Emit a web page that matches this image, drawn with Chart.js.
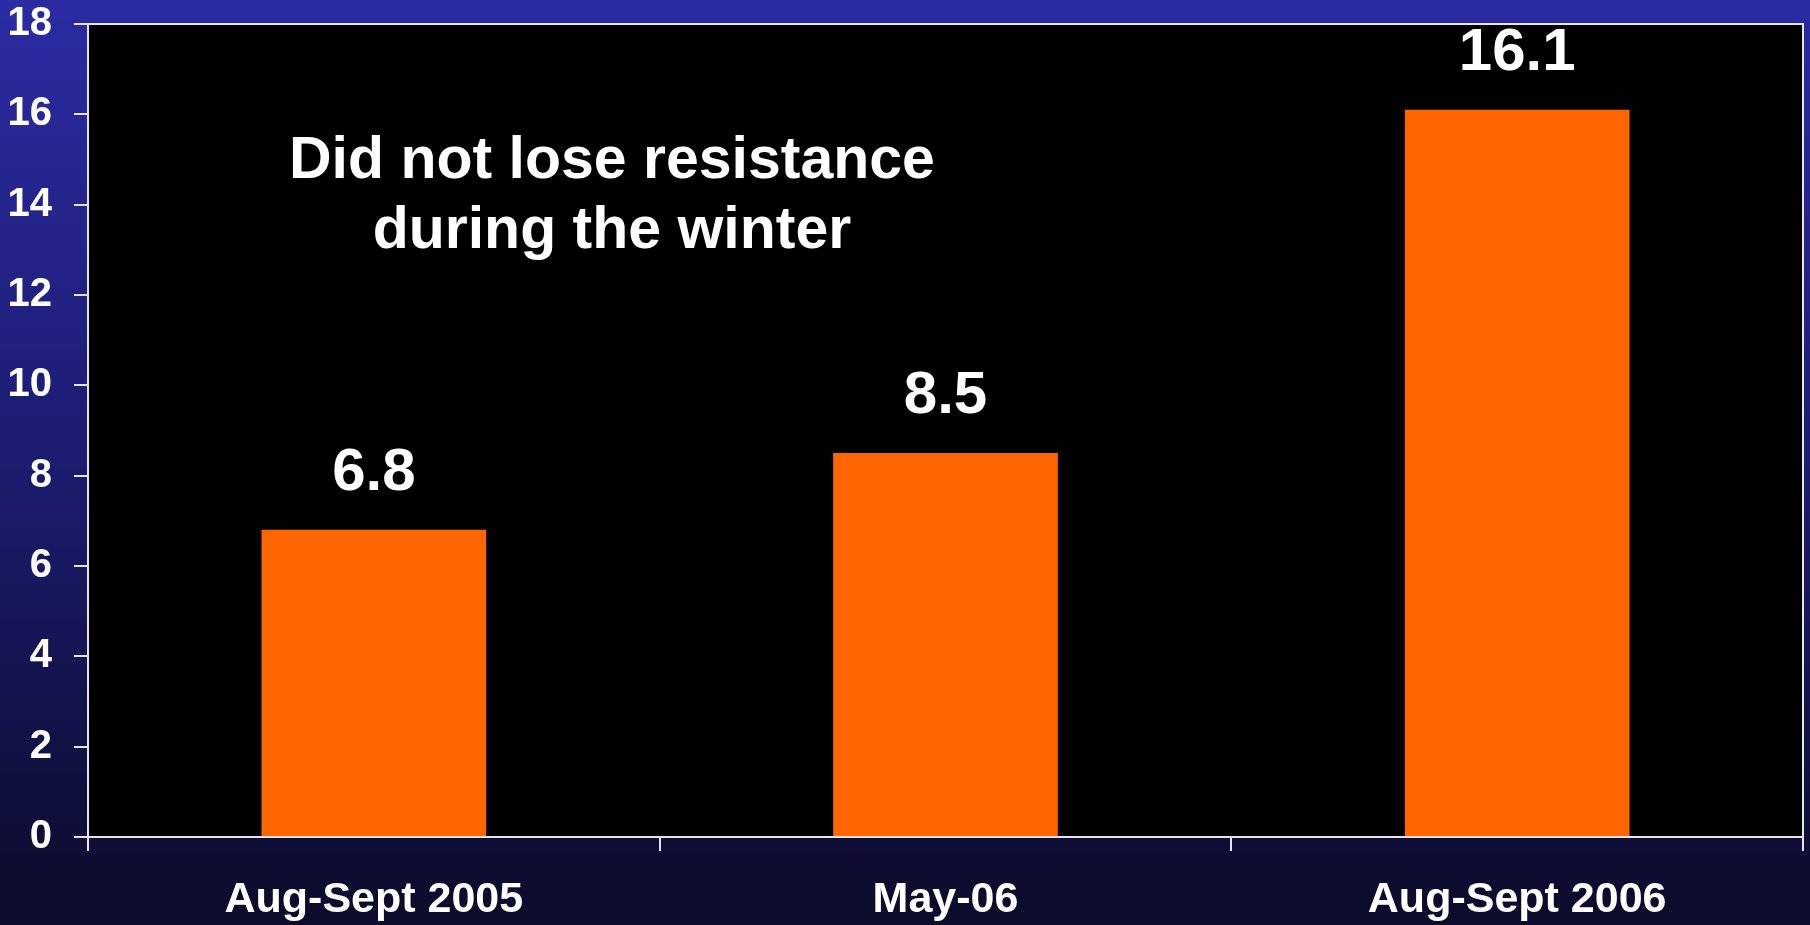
<!DOCTYPE html>
<html><head><meta charset="utf-8">
<script src="https://cdn.jsdelivr.net/npm/chart.js@4.4.1/dist/chart.umd.min.js"></script>
<style>html,body{margin:0;padding:0;background:#000;overflow:hidden}#wrap{width:1810px;height:925px}</style>
</head><body><div id="wrap"><canvas id="c" width="1810" height="925"></canvas></div>
<script>
const categories = ["Aug-Sept 2005", "May-06", "Aug-Sept 2006"];
const values = [6.8, 8.5, 16.1];
const yMin = 0, yMax = 18, yStep = 2;
const annotationLines = ["Did not lose resistance", "during the winter"];

const FONT = "'Liberation Sans', Arial, Helvetica, sans-serif";
const AXIS_COLOR = '#e4e4e4';

const bgPlugin = {
  id: 'bg',
  beforeDraw(chart) {
    const ctx = chart.ctx, W = chart.width, H = chart.height;
    ctx.save();
    const g = ctx.createLinearGradient(0, 0, 0, H);
    g.addColorStop(0, '#2b2ba3');
    g.addColorStop(0.5, '#1c1c70');
    g.addColorStop(1, '#0b0b2a');
    ctx.fillStyle = g;
    ctx.fillRect(0, 0, W, H);
    const a = chart.chartArea;
    ctx.fillStyle = '#000000';
    ctx.fillRect(a.left, a.top, a.right - a.left, a.bottom - a.top);
    ctx.restore();
  },
  afterDatasetsDraw(chart) {
    const ctx = chart.ctx;
    const meta = chart.getDatasetMeta(0);
    ctx.save();
    ctx.fillStyle = '#ffffff';
    ctx.font = `bold 60px ${FONT}`;
    ctx.textAlign = 'center';
    ctx.textBaseline = 'alphabetic';
    meta.data.forEach((bar, i) => {
      ctx.fillText(String(chart.data.datasets[0].data[i]), bar.x, bar.y - 40);
    });
    ctx.restore();
  },
  afterDraw(chart) {
    const ctx = chart.ctx, a = chart.chartArea;
    ctx.save();
    ctx.strokeStyle = AXIS_COLOR;
    ctx.lineWidth = 2;
    ctx.beginPath();
    ctx.moveTo(a.left, a.top);
    ctx.lineTo(a.right, a.top);
    ctx.lineTo(a.right, a.bottom);
    ctx.stroke();
    ctx.fillStyle = '#ffffff';
    ctx.font = `bold 59px ${FONT}`;
    ctx.textAlign = 'center';
    ctx.textBaseline = 'middle';
    const cx = a.left + (a.right - a.left) * 0.3055;
    const cy = a.top + (a.bottom - a.top) * 0.17;
    annotationLines.forEach((t, i) => ctx.fillText(t, cx, cy + i * 70));
    ctx.restore();
  }
};

new Chart(document.getElementById('c'), {
  type: 'bar',
  data: {
    labels: categories,
    datasets: [{
      data: values,
      backgroundColor: '#ff6600',
      borderWidth: 0,
      barPercentage: 0.393,
      categoryPercentage: 1.0
    }]
  },
  options: {
    responsive: false,
    animation: false,
    devicePixelRatio: 1,
    layout: { padding: { top: 0, right: 7, left: 0, bottom: 0 } },
    plugins: { legend: { display: false }, tooltip: { enabled: false }, title: { display: false } },
    scales: {
      x: {
        grid: { display: true, offset: true, drawOnChartArea: false, drawTicks: true, tickLength: 14, color: AXIS_COLOR, lineWidth: 2 },
        border: { display: true, color: AXIS_COLOR, width: 2 },
        ticks: { color: '#ffffff', font: { family: FONT, size: 43, weight: 'bold' }, padding: 23, maxRotation: 0, autoSkip: false },
        afterFit(s) { s.height = 88; s.paddingLeft = 0; s.paddingRight = 0; }
      },
      y: {
        min: yMin, max: yMax,
        grid: { display: true, drawOnChartArea: false, drawTicks: true, tickLength: 14, color: AXIS_COLOR, lineWidth: 2 },
        border: { display: true, color: AXIS_COLOR, width: 2 },
        ticks: { stepSize: yStep, color: '#ffffff', font: { family: FONT, size: 40, weight: 'bold' }, padding: 22, autoSkip: false },
        afterFit(s) { s.width = 88; s.paddingTop = 24; s.paddingBottom = 0; }
      }
    }
  },
  plugins: [bgPlugin]
});
</script>
</body></html>
